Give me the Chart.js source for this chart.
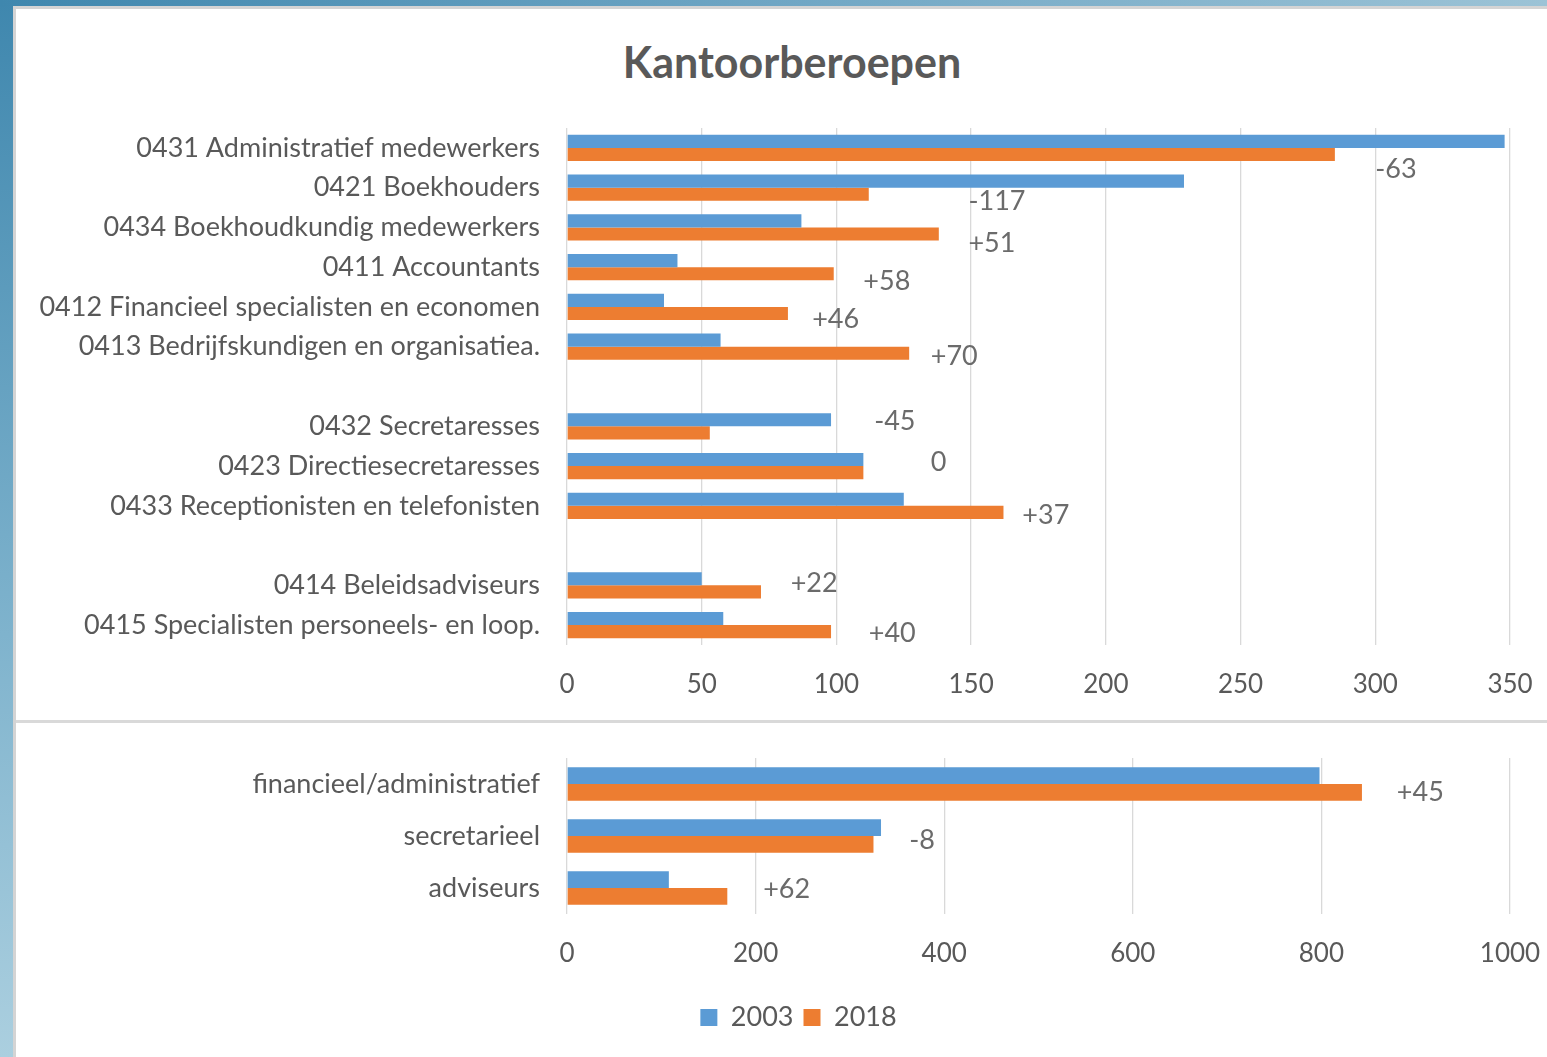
<!DOCTYPE html>
<html>
<head>
<meta charset="utf-8">
<script src="https://cdn.jsdelivr.net/npm/chart.js@4.4.1/dist/chart.umd.min.js"></script>
<style>
  html, body { margin: 0; padding: 0; }
  body {
    width: 1547px; height: 1057px; overflow: hidden; position: relative;
    background: linear-gradient(180deg, #3f87ae 0%, #7fb3cd 60%, #abcfdf 100%);
  }
  #topstrip {
    position: absolute; left: 0; top: 0; width: 1547px; height: 7px;
    background: linear-gradient(90deg, #3f87ae 0%, #6fa6c4 50%, #9cc3d6 100%);
  }
  #panel {
    position: absolute; left: 13px; top: 6px; width: 1534px; height: 1051px;
    background: #fff; border-left: 3px solid #d4d4d4; border-top: 3px solid #d4d4d4;
    box-sizing: border-box;
  }
  #divider {
    position: absolute; left: 16px; top: 720px; width: 1531px; height: 3px; background: #d9d9d9;
  }
  #title {
    position: absolute; left: 0; top: 39px; width: 1584px; height: 46px; line-height: 46px;
    text-align: center; font-family: Lato, 'Open Sans', sans-serif; font-weight: bold;
    font-size: 43px; color: #595959; margin: 0;
  }
  #c1wrap { position: absolute; left: 0; top: 0; width: 1547px; height: 719px; }
  #c2wrap { position: absolute; left: 0; top: 724px; width: 1547px; height: 333px; }
</style>
</head>
<body>
<div id="topstrip"></div>
<div id="panel"></div>
<div id="divider"></div>
<h1 id="title"></h1>
<div id="c1wrap"><canvas id="c1"></canvas></div>
<div id="c2wrap"><canvas id="c2"></canvas></div>
<script>
// ---------- DATA ----------
const titleText = "Kantoorberoepen";
const seriesNames = ["2003", "2018"];

const detailCategories = [
  "0431 Administratief medewerkers",
  "0421 Boekhouders",
  "0434 Boekhoudkundig medewerkers",
  "0411 Accountants",
  "0412 Financieel specialisten en economen",
  "0413 Bedrijfskundigen en organisatiea.",
  "",
  "0432 Secretaresses",
  "0423 Directiesecretaresses",
  "0433 Receptionisten en telefonisten",
  "",
  "0414 Beleidsadviseurs",
  "0415 Specialisten personeels- en loop."
];
const detail2003 = [348, 229, 87, 41, 36, 57, null, 98, 110, 125, null, 50, 58];
const detail2018 = [285, 112, 138, 99, 82, 127, null, 53, 110, 162, null, 72, 98];
const detailTicks = [0, 50, 100, 150, 200, 250, 300, 350];

const groupCategories = ["financieel/administratief", "secretarieel", "adviseurs"];
const group2003 = [798, 333, 108];
const group2018 = [843, 325, 170];
const groupTicks = [0, 200, 400, 600, 800, 1000];

// Where the difference labels sit: x in axis units, y shift in category units
const detailLabelX = [300, 149, 149, 110, 91, 135, null, 114, 135, 169, null, 83, 112];
const detailLabelDY = [0.55, 0.35, 0.40, 0.35, 0.30, 0.23, 0, -0.12, -0.10, 0.23, 0, -0.05, 0.20];
const groupLabelX = [880, 363, 208];
const groupLabelDY = [0.15, 0.08, 0.02];

// ---------- STYLE ----------
const BLUE = "#5B9BD5";
const ORANGE = "#ED7D31";
const TEXT = "#595959";
const FONT = "Lato, 'Open Sans', sans-serif";

document.getElementById("title").textContent = titleText;

function diffLabel(a, b) {
  if (a == null || b == null) return null;
  const d = b - a;
  return d > 0 ? "+" + d : String(d);
}

const diffLabelsPlugin = {
  id: "diffLabels",
  afterDatasetsDraw(chart, args, opts) {
    const ctx = chart.ctx;
    const xs = chart.scales.x, ys = chart.scales.y;
    const d0 = chart.data.datasets[0].data, d1 = chart.data.datasets[1].data;
    const step = ys.getPixelForValue(1) - ys.getPixelForValue(0);
    ctx.save();
    ctx.font = opts.font;
    ctx.fillStyle = opts.color;
    ctx.textAlign = "left";
    ctx.textBaseline = "middle";
    d0.forEach((v, i) => {
      const t = diffLabel(v, d1[i]);
      if (t === null || opts.xs[i] == null) return;
      const x = xs.getPixelForValue(opts.xs[i]);
      const y = ys.getPixelForValue(i) + opts.dys[i] * step;
      ctx.fillText(t, x, y);
    });
    ctx.restore();
  }
};

Chart.register(diffLabelsPlugin);

function makeChart(canvasId, cats, a, b, ticks, max, cfg) {
  return new Chart(document.getElementById(canvasId), {
    type: "bar",
    data: {
      labels: cats,
      datasets: [
        { label: seriesNames[0], data: a, backgroundColor: BLUE, borderWidth: 0 },
        { label: seriesNames[1], data: b, backgroundColor: ORANGE, borderWidth: 0 }
      ]
    },
    options: {
      indexAxis: "y",
      responsive: true,
      maintainAspectRatio: false,
      animation: false,
      datasets: { bar: { barPercentage: 1, categoryPercentage: cfg.catPct } },
      layout: { padding: cfg.padding },
      plugins: {
        title: { display: false },
        legend: cfg.legend,
        tooltip: { enabled: false },
        diffLabels: { xs: cfg.labelX, dys: cfg.labelDY, font: "27px " + FONT, color: "#6b6b6b" }
      },
      scales: {
        x: {
          min: 0, max: max,
          afterBuildTicks(s) { s.ticks = ticks.map(v => ({ value: v })); },
          afterFit(s) { s.height = cfg.xHeight; s.paddingLeft = 0; s.paddingRight = 0; },
          grid: { color: "#d9d9d9", lineWidth: 1.3, drawTicks: false },
          border: { display: false },
          ticks: { color: TEXT, font: { family: FONT, size: 26 }, padding: cfg.xPad, maxRotation: 0,
                   callback: v => String(v) }
        },
        y: {
          afterFit(s) { s.width = cfg.yWidth; s.paddingTop = 0; s.paddingBottom = 0; },
          grid: { display: false, drawTicks: false },
          border: { display: false },
          ticks: { color: TEXT, font: { family: FONT, size: 27 }, padding: 27, autoSkip: false }
        }
      }
    }
  });
}

makeChart("c1", detailCategories, detail2003, detail2018, detailTicks, 350, {
  catPct: 0.66,
  padding: { left: 0, right: 37, top: 128, bottom: 0 },
  yWidth: 567,
  xHeight: 719 - 645,
  xPad: 24,
  labelX: detailLabelX, labelDY: detailLabelDY,
  legend: { display: false }
});

makeChart("c2", groupCategories, group2003, group2018, groupTicks, 1000, {
  catPct: 0.64,
  padding: { left: 87, right: 37, top: 34, bottom: 16 },
  yWidth: 567 - 87,
  xHeight: 80,
  xPad: 24,
  labelX: groupLabelX, labelDY: groupLabelDY,
  legend: {
    display: true, position: "bottom",
    labels: { color: TEXT, font: { family: FONT, size: 27 }, boxWidth: 17, boxHeight: 17, padding: 10 }
  }
});
</script>
</body>
</html>
